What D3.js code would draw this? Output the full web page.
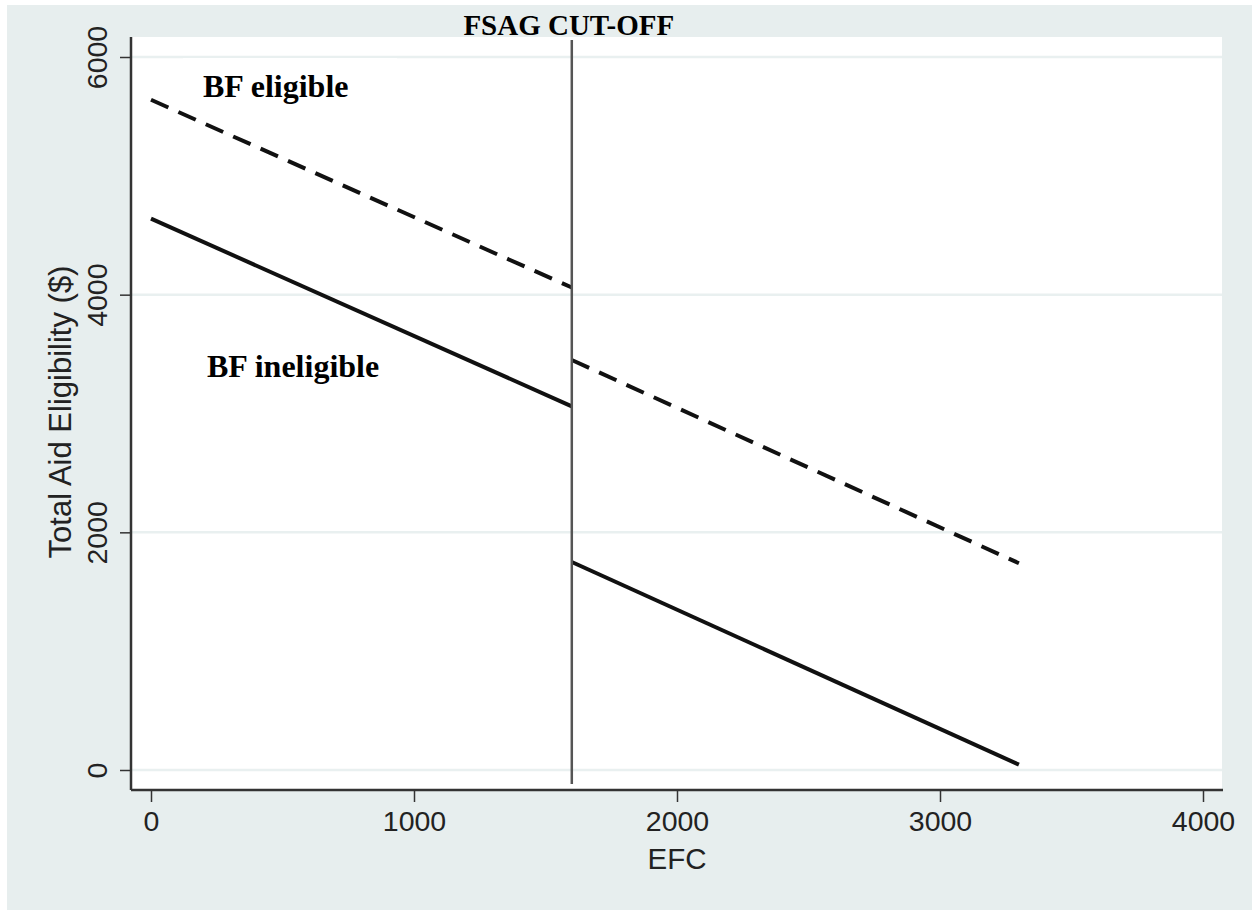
<!DOCTYPE html>
<html>
<head>
<meta charset="utf-8">
<script src="https://cdn.jsdelivr.net/npm/d3@7"></script>
<style>
    body { margin: 0; background: #fff; }
    svg { display: block; }
</style>
</head>
<body>
<svg id="chart" width="1252" height="911"></svg>
<script>
// data
const xTicks = [0, 1000, 2000, 3000, 4000]
const yTicks = [0, 2000, 4000, 6000]
const cutoff = 1600
const efcBelow = [0, 1600]
const efcAbove = [1600, 3300]
const eligibleBelow = [5640, 4060]
const eligibleAbove = [3450, 1740]
const ineligibleBelow = [4640, 3060]
const ineligibleAbove = [1750, 45]

const svg = d3.select("#chart")
const plot = { left: 131, right: 1222, top: 37, bottom: 790 }
const sans = "Liberation Sans, Arial, sans-serif"
const serif = "Liberation Serif, Times New Roman, serif"

// background
svg.append("rect").attr("x", 7).attr("y", 5).attr("width", 1245).attr("height", 905).attr("fill", "#e7eeee")
svg.append("rect").attr("x", plot.left).attr("y", plot.top)
    .attr("width", plot.right - plot.left).attr("height", plot.bottom - plot.top).attr("fill", "#fff")

let scX = d3.scaleLinear().domain([0, 4000]).range([151, 1203])
let scY = d3.scaleLinear().domain([0, 6000]).range([770, 57])

// grid lines
svg.append("g").selectAll("line").data(yTicks).enter().append("line")
    .attr("x1", plot.left + 1).attr("x2", plot.right)
    .attr("y1", d => scY(d)).attr("y2", d => scY(d))
    .attr("stroke", "#e9f0f0").attr("stroke-width", 2.5)

// axes
let xAxis = svg.append("g").attr("transform", "translate(0," + plot.bottom + ")")
    .call(d3.axisBottom(scX).tickValues(xTicks).tickSize(12).tickPadding(9).tickFormat(d3.format("d")))
xAxis.select(".domain").remove()
xAxis.selectAll("line").attr("stroke", "#333").attr("stroke-width", 1.5)
xAxis.selectAll("text").attr("font-family", sans).attr("font-size", 28.5).attr("fill", "#222")

let yAxis = svg.append("g").attr("transform", "translate(" + plot.left + ",0)")
    .call(d3.axisLeft(scY).tickValues(yTicks).tickSize(11).tickFormat(d3.format("d")))
yAxis.select(".domain").remove()
yAxis.selectAll("line").attr("stroke", "#333").attr("stroke-width", 1.5)
yAxis.selectAll("text")
    .attr("x", null).attr("dy", null)
    .attr("transform", "translate(-24,0) rotate(-90)")
    .attr("text-anchor", "middle")
    .attr("font-family", sans).attr("font-size", 28.5).attr("fill", "#222")

svg.append("line").attr("x1", plot.left).attr("x2", plot.right + 1)
    .attr("y1", plot.bottom).attr("y2", plot.bottom).attr("stroke", "#333").attr("stroke-width", 2.5)
svg.append("line").attr("x1", plot.left).attr("x2", plot.left)
    .attr("y1", plot.top).attr("y2", plot.bottom).attr("stroke", "#333").attr("stroke-width", 2.5)

// axis titles
svg.append("text").attr("x", scX(2000)).attr("y", 869).attr("text-anchor", "middle")
    .attr("font-family", sans).attr("font-size", 29.5).attr("fill", "#222")
    .text("EFC")
svg.append("text").attr("transform", "translate(71,412) rotate(-90)").attr("text-anchor", "middle")
    .attr("font-family", sans).attr("font-size", 31).attr("fill", "#222")
    .text("Total Aid Eligibility ($)")

// white box behind top label
svg.append("rect").attr("x", 183).attr("y", 58).attr("width", 214).attr("height", 50).attr("fill", "#fff")

// lines
let lnMkr = d3.line().x(d => scX(d[0])).y(d => scY(d[1]))
const segments = [
    { x: efcBelow, y: eligibleBelow, dash: "19,11" },
    { x: efcAbove, y: eligibleAbove, dash: "19,11" },
    { x: efcBelow, y: ineligibleBelow, dash: null },
    { x: efcAbove, y: ineligibleAbove, dash: null }
]
svg.append("g").selectAll("path").data(segments).enter().append("path")
    .attr("d", s => lnMkr(d3.zip(s.x, s.y)))
    .attr("fill", "none").attr("stroke", "#111").attr("stroke-width", 4)
    .attr("stroke-dasharray", s => s.dash)

// cut-off line
svg.append("line").attr("x1", scX(cutoff)).attr("x2", scX(cutoff))
    .attr("y1", plot.top + 3).attr("y2", plot.bottom - 6)
    .attr("stroke", "#555").attr("stroke-width", 2.5)

// labels
svg.append("text").attr("x", scX(cutoff) - 3).attr("y", 35).attr("text-anchor", "middle")
    .attr("font-family", serif).attr("font-weight", "bold").attr("font-size", 29).text("FSAG CUT-OFF")
svg.append("text").attr("x", 203).attr("y", 97)
    .attr("font-family", serif).attr("font-weight", "bold").attr("font-size", 32).text("BF eligible")
svg.append("text").attr("x", 207).attr("y", 377)
    .attr("font-family", serif).attr("font-weight", "bold").attr("font-size", 32).text("BF ineligible")
</script>
</body>
</html>
